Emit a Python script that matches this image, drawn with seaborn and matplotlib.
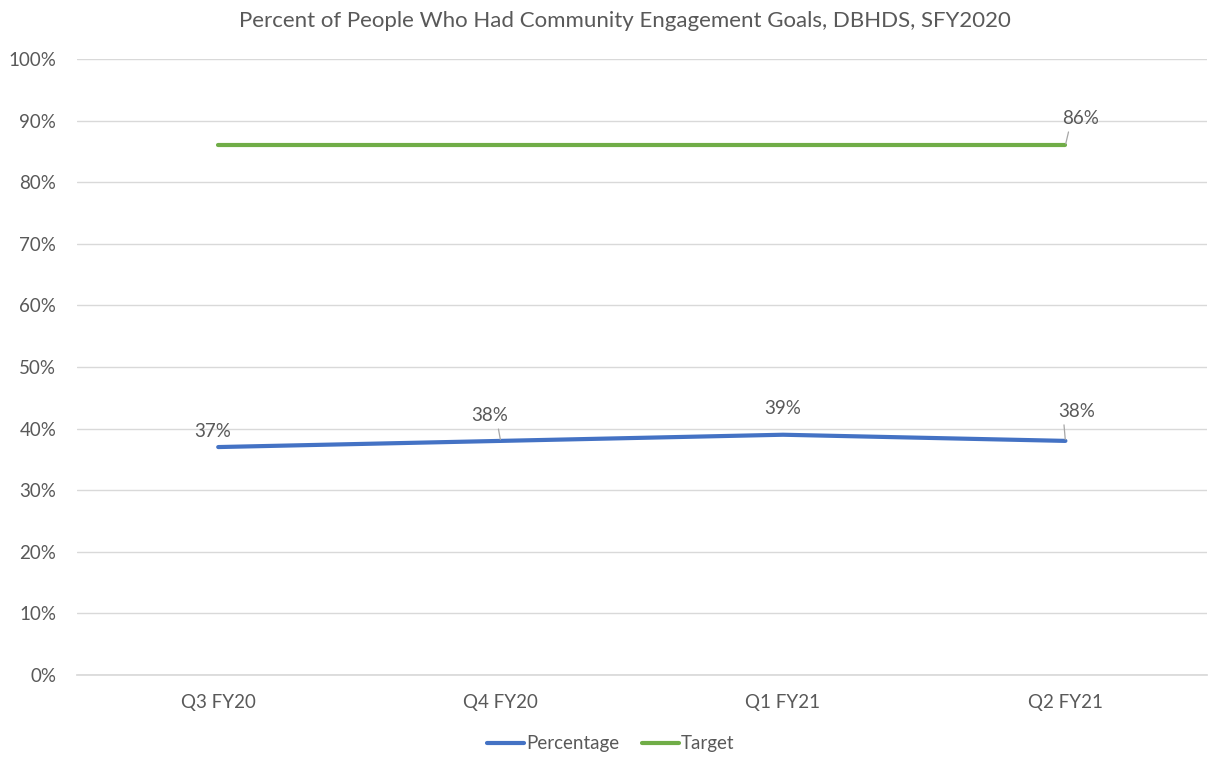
import matplotlib
matplotlib.use("Agg")
import matplotlib.pyplot as plt
import seaborn as sns
import pandas as pd

quarters = ["Q3 FY20", "Q4 FY20", "Q1 FY21", "Q2 FY21"]
percentage = [37, 38, 39, 38]
target = [86, 86, 86, 86]

sns.set_theme(style="white")
plt.rcParams["font.family"] = ["Lato", "DejaVu Sans"]

TEXT = "#595959"
BLUE = "#4472C4"
GREEN = "#70AD47"

df = pd.DataFrame({
    "Quarter": quarters * 2,
    "Value": percentage + target,
    "Series": ["Percentage"] * 4 + ["Target"] * 4,
})
df["x"] = list(range(len(quarters))) * 2

fig = plt.figure(figsize=(12.09, 7.59), dpi=100)
ax = fig.add_axes([0.0637, 0.1107, 0.9343, 0.8116])

sns.lineplot(data=df, x="x", y="Value", hue="Series",
             palette={"Percentage": BLUE, "Target": GREEN},
             linewidth=3, ax=ax, legend=False)

ax.set_xlim(-0.5, 3.5)
ax.set_ylim(0, 100)
ax.set_yticks(range(0, 101, 10))
ax.set_yticklabels([f"{v}%" for v in range(0, 101, 10)], color=TEXT, fontsize=13.5)
ax.set_xticks(range(len(quarters)))
ax.set_xticklabels(quarters, color=TEXT, fontsize=13.5)
ax.tick_params(axis="y", length=0, pad=15)
ax.tick_params(axis="x", length=0, pad=14)
ax.yaxis.grid(True, color="#D9D9D9", linewidth=1)
ax.set_axisbelow(True)
for s in ["left", "right", "top"]:
    ax.spines[s].set_visible(False)
ax.spines["bottom"].set_color("#D9D9D9")
ax.set_xlabel("")
ax.set_ylabel("")

LEADER = "#A6A6A6"


def leader(relx):
    return dict(arrowstyle="-", color=LEADER, lw=0.9, shrinkA=1, shrinkB=1,
                relpos=(relx, 0.0))


# data labels: (dx, dy in points, leader anchor or None)
offsets = [(-4, 11, None), (-8, 18, 0.72), (0, 19, None), (8, 21, 0.15)]
for i, (v, (dx, dy, rel)) in enumerate(zip(percentage, offsets)):
    ax.annotate(f"{v}%", xy=(i, v), xytext=(dx, dy), textcoords="offset points",
                ha="center", va="center", fontsize=13.5, color=TEXT,
                arrowprops=leader(rel) if rel is not None else None)
ax.annotate(f"{target[-1]}%", xy=(3, target[-1]), xytext=(11, 19),
            textcoords="offset points", ha="center", va="center",
            fontsize=13.5, color=TEXT, arrowprops=leader(0.2))

fig.text(0.517, 0.972, "Percent of People Who Had Community Engagement Goals, DBHDS, SFY2020",
         ha="center", va="center", fontsize=16, color=TEXT)

handles = [plt.Line2D([], [], color=BLUE, lw=3), plt.Line2D([], [], color=GREEN, lw=3)]
fig.legend(handles, ["Percentage", "Target"], loc="center", bbox_to_anchor=(0.505, 0.02),
           ncol=2, frameon=False, fontsize=13.5, labelcolor=TEXT,
           handlelength=2, handletextpad=0.1, columnspacing=1.2)

fig.savefig("out.png", dpi=100)
